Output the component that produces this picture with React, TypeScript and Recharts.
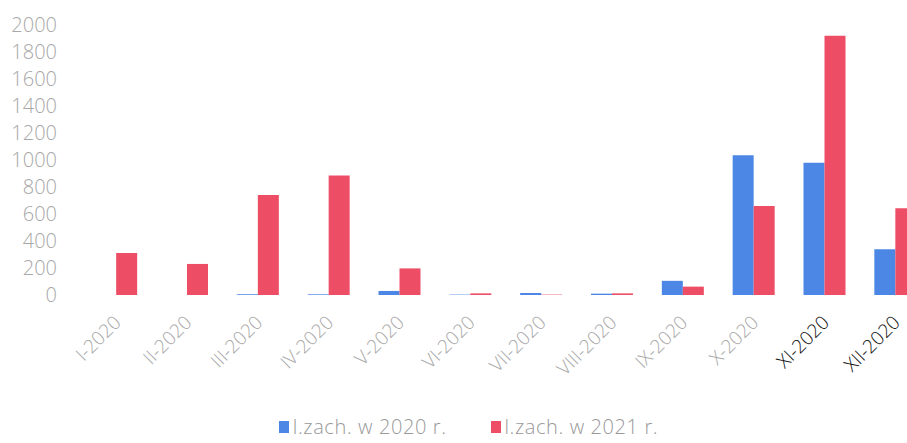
import { Bar, BarChart, Legend, XAxis, YAxis } from "recharts";

const months = [
  "I-2020",
  "II-2020",
  "III-2020",
  "IV-2020",
  "V-2020",
  "VI-2020",
  "VII-2020",
  "VIII-2020",
  "IX-2020",
  "X-2020",
  "XI-2020",
  "XII-2020",
];
const cases2020 = [0, 0, 5, 5, 30, 3, 15, 10, 105, 1035, 980, 338];
const cases2021 = [311, 230, 740, 885, 197, 12, 3, 12, 62, 660, 1920, 642];
const yTicks = [0, 200, 400, 600, 800, 1000, 1200, 1400, 1600, 1800, 2000];
const darkLabels = ["XI-2020", "XII-2020"];

const BLUE = "#4c87e6";
const RED = "#ee4d66";
const GREY = "#a8a8a8";
const FONT = "'Open Sans', sans-serif";

const rows = months.map((m, i) => ({ month: m, a: cases2020[i], b: cases2021[i] }));

function MonthTick({ x, y, payload }: any) {
  const dark = darkLabels.includes(payload.value);
  return (
    <g transform={`translate(${x + 1},${y + 16}) rotate(-45)`}>
      <text
        x={0}
        y={0}
        dy="0.35em"
        textAnchor="end"
        fontSize={19}
        fontWeight={300}
        fontFamily={FONT}
        fill={dark ? "#111" : GREY}
      >
        {payload.value}
      </text>
    </g>
  );
}

function SeriesLegend() {
  const items = [
    { label: "l.zach. w 2020 r.", color: BLUE },
    { label: "l.zach. w 2021 r.", color: RED },
  ];
  return (
    <div
      style={{
        display: "flex",
        justifyContent: "center",
        gap: 44,
        fontFamily: FONT,
        fontWeight: 300,
        fontSize: 20,
        lineHeight: "24px",
        letterSpacing: 0.6,
        color: "#999",
        paddingTop: 2,
      }}
    >
      {items.map((it) => (
        <span key={it.label} style={{ display: "flex", alignItems: "center" }}>
          <span
            style={{
              width: 10,
              height: 12,
              background: it.color,
              marginRight: 4,
              display: "inline-block",
            }}
          />
          {it.label}
        </span>
      ))}
    </div>
  );
}

export default function App() {
  return (
    <div
      style={{
        position: "absolute",
        left: 0,
        top: 0,
        width: 907,
        height: 443,
        overflow: "hidden",
        background: "#fff",
      }}
    >
      <BarChart
        width={937}
        height={443}
        data={rows}
        margin={{ top: 25, right: 6, bottom: 0, left: 6 }}
        barCategoryGap="20%"
        barGap={0}
      >
        <XAxis
          dataKey="month"
          axisLine={false}
          tickLine={false}
          interval={0}
          height={118}
          tick={<MonthTick />}
        />
        <YAxis
          domain={[0, 2000]}
          ticks={yTicks}
          axisLine={false}
          tickLine={false}
          width={75}
          tickMargin={18}
          interval={0}
          tick={{ fontSize: 20, fill: GREY, fontFamily: FONT, fontWeight: 300 }}
        />
        <Legend verticalAlign="bottom" height={30} content={<SeriesLegend />} />
        <Bar dataKey="a" fill={BLUE} isAnimationActive={false} />
        <Bar dataKey="b" fill={RED} isAnimationActive={false} />
      </BarChart>
    </div>
  );
}
